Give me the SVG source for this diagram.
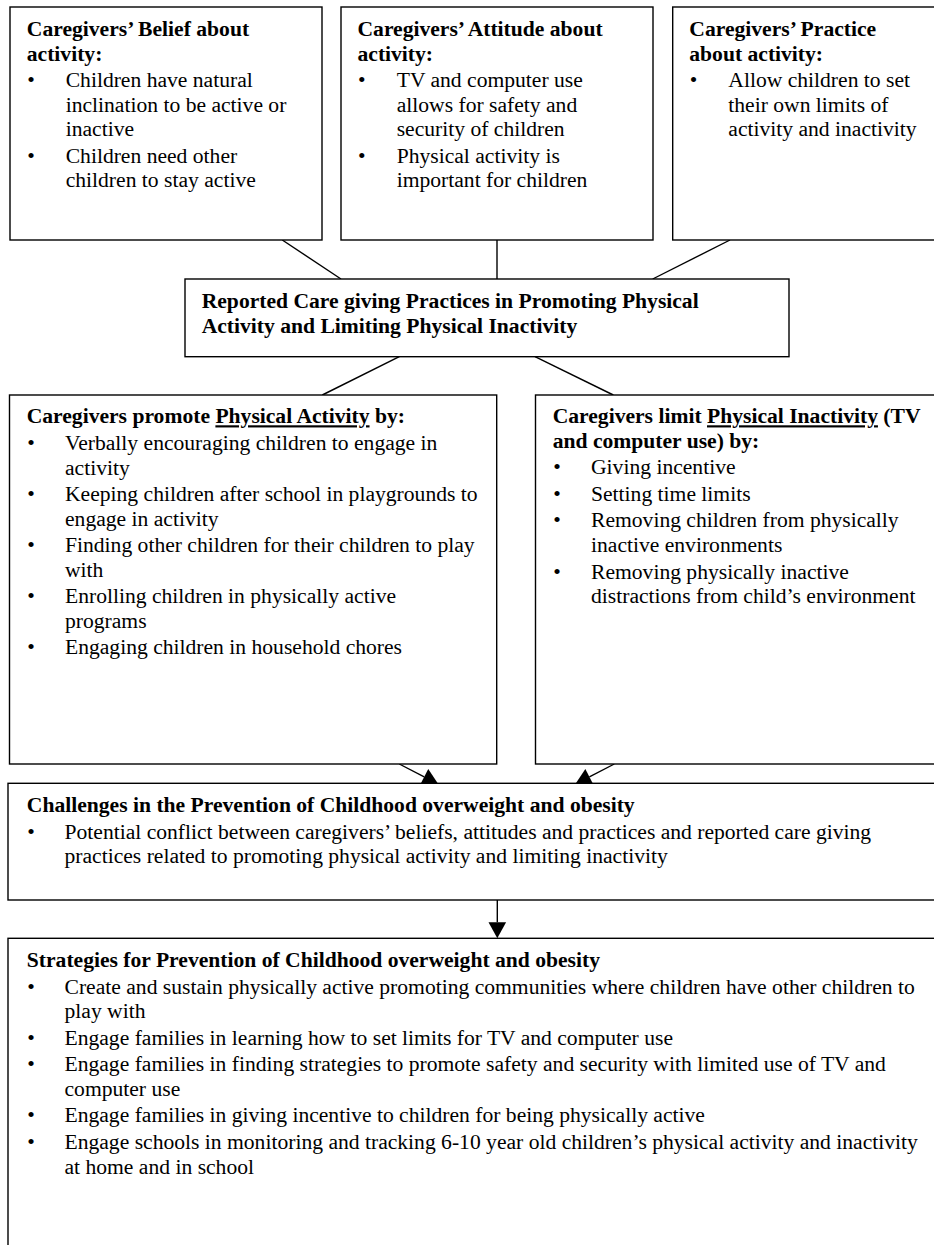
<svg xmlns="http://www.w3.org/2000/svg" width="934" height="1245" viewBox="0 0 934 1245">
<style>
.box{fill:#fff;stroke:#000;stroke-width:1.4}
.ln{stroke:#000;stroke-width:1.4;fill:none}
text{font-family:"Liberation Serif","Times New Roman",serif;font-size:21.6px;fill:#000}
.b{font-weight:bold}
.u{text-decoration:underline}
</style>
<defs>
<marker id="ah" markerUnits="userSpaceOnUse" markerWidth="16" markerHeight="18" refX="0" refY="9" orient="auto" overflow="visible">
<path d="M0,0.2 L16,9 L0,17.8 z" fill="#000"/>
</marker>
</defs>
<rect width="934" height="1245" fill="#fff"/>
<g id="connectors">
<line class="ln" x1="282.3" y1="240" x2="341" y2="279"/>
<line class="ln" x1="497" y1="240" x2="497" y2="279"/>
<line class="ln" x1="730" y1="240" x2="652.7" y2="279"/>
<line class="ln" x1="399.3" y1="356.7" x2="322.3" y2="395"/>
<line class="ln" x1="535" y1="356.7" x2="613.3" y2="395"/>
<line class="ln" x1="399.3" y1="764" x2="424.2" y2="776.9" marker-end="url(#ah)"/>
<line class="ln" x1="614.3" y1="764" x2="589.4" y2="776.9" marker-end="url(#ah)"/>
<line class="ln" x1="497.3" y1="900" x2="497.3" y2="922.3" marker-end="url(#ah)"/>
</g>
<g id="belief">
<rect class="box" x="10" y="7" width="312" height="233"/>
<text class="b"><tspan x="26.8" y="36">Caregivers’ Belief about</tspan><tspan x="26.8" y="60.6">activity:</tspan></text>
<text><tspan x="27.3" y="87.1">•</tspan><tspan x="65.7" y="87.1">Children have natural</tspan><tspan x="65.7" y="111.7">inclination to be active or</tspan><tspan x="65.7" y="136.3">inactive</tspan><tspan x="27.3" y="162.8">•</tspan><tspan x="65.7" y="162.8">Children need other</tspan><tspan x="65.7" y="187.4">children to stay active</tspan></text>
</g>
<g id="attitude">
<rect class="box" x="341" y="7" width="312" height="233"/>
<text class="b"><tspan x="357.5" y="36">Caregivers’ Attitude about</tspan><tspan x="357.5" y="60.6">activity:</tspan></text>
<text><tspan x="358" y="87.1">•</tspan><tspan x="396.7" y="87.1">TV and computer use</tspan><tspan x="396.7" y="111.7">allows for safety and</tspan><tspan x="396.7" y="136.3">security of children</tspan><tspan x="358" y="162.8">•</tspan><tspan x="396.7" y="162.8">Physical activity is</tspan><tspan x="396.7" y="187.4">important for children</tspan></text>
</g>
<g id="practice">
<rect class="box" x="672.7" y="7" width="300" height="233"/>
<text class="b"><tspan x="689.3" y="36">Caregivers’ Practice</tspan><tspan x="689.3" y="60.6">about activity:</tspan></text>
<text><tspan x="689.8" y="87.1">•</tspan><tspan x="728.3" y="87.1">Allow children to set</tspan><tspan x="728.3" y="111.7">their own limits of</tspan><tspan x="728.3" y="136.3">activity and inactivity</tspan></text>
</g>
<g id="reported">
<rect class="box" x="185" y="279" width="604" height="77.7"/>
<text class="b"><tspan x="201.7" y="308.2">Reported Care giving Practices in Promoting Physical</tspan><tspan x="201.7" y="332.8">Activity and Limiting Physical Inactivity</tspan></text>
</g>
<g id="promote">
<rect class="box" x="9.5" y="395" width="487.2" height="369"/>
<text class="b" x="26.7" y="423.3">Caregivers promote <tspan class="u">Physical Activity</tspan> by:</text>
<text><tspan x="27.2" y="449.9">•</tspan><tspan x="65" y="449.9">Verbally encouraging children to engage in</tspan><tspan x="65" y="474.5">activity</tspan><tspan x="27.2" y="501">•</tspan><tspan x="65" y="501">Keeping children after school in playgrounds to</tspan><tspan x="65" y="525.6">engage in activity</tspan><tspan x="27.2" y="552.1">•</tspan><tspan x="65" y="552.1">Finding other children for their children to play</tspan><tspan x="65" y="576.7">with</tspan><tspan x="27.2" y="603.2">•</tspan><tspan x="65" y="603.2">Enrolling children in physically active</tspan><tspan x="65" y="627.8">programs</tspan><tspan x="27.2" y="654.3">•</tspan><tspan x="65" y="654.3">Engaging children in household chores</tspan></text>
</g>
<g id="limit">
<rect class="box" x="535.5" y="395" width="420" height="369"/>
<text class="b"><tspan x="552.7" y="423.3">Caregivers limit <tspan class="u">Physical Inactivity</tspan> (TV</tspan><tspan x="552.7" y="447.9">and computer use) by:</tspan></text>
<text><tspan x="553.2" y="474.4">•</tspan><tspan x="591" y="474.4">Giving incentive</tspan><tspan x="553.2" y="500.9">•</tspan><tspan x="591" y="500.9">Setting time limits</tspan><tspan x="553.2" y="527.4">•</tspan><tspan x="591" y="527.4">Removing children from physically</tspan><tspan x="591" y="552">inactive environments</tspan><tspan x="553.2" y="578.5">•</tspan><tspan x="591" y="578.5">Removing physically inactive</tspan><tspan x="591" y="603.1">distractions from child’s environment</tspan></text>
</g>
<g id="challenges">
<rect class="box" x="8" y="783.3" width="950" height="116.7"/>
<text class="b" x="26.8" y="812.1">Challenges in the Prevention of Childhood overweight and obesity</text>
<text><tspan x="27.3" y="838.7">•</tspan><tspan x="64.5" y="838.7">Potential conflict between caregivers’ beliefs, attitudes and practices and reported care giving</tspan><tspan x="64.5" y="863.3">practices related to promoting physical activity and limiting inactivity</tspan></text>
</g>
<g id="strategies">
<rect class="box" x="8" y="938.3" width="950" height="330"/>
<text class="b" x="26.8" y="967.1">Strategies for Prevention of Childhood overweight and obesity</text>
<text><tspan x="27.3" y="993.7">•</tspan><tspan x="64.5" y="993.7">Create and sustain physically active promoting communities where children have other children to</tspan><tspan x="64.5" y="1018.3">play with</tspan><tspan x="27.3" y="1044.8">•</tspan><tspan x="64.5" y="1044.8">Engage families in learning how to set limits for TV and computer use</tspan><tspan x="27.3" y="1071.3">•</tspan><tspan x="64.5" y="1071.3">Engage families in finding strategies to promote safety and security with limited use of TV and</tspan><tspan x="64.5" y="1095.9">computer use</tspan><tspan x="27.3" y="1122.4">•</tspan><tspan x="64.5" y="1122.4">Engage families in giving incentive to children for being physically active</tspan><tspan x="27.3" y="1148.9">•</tspan><tspan x="64.5" y="1148.9">Engage schools in monitoring and tracking 6-10 year old children’s physical activity and inactivity</tspan><tspan x="64.5" y="1173.5">at home and in school</tspan></text>
</g>
</svg>
